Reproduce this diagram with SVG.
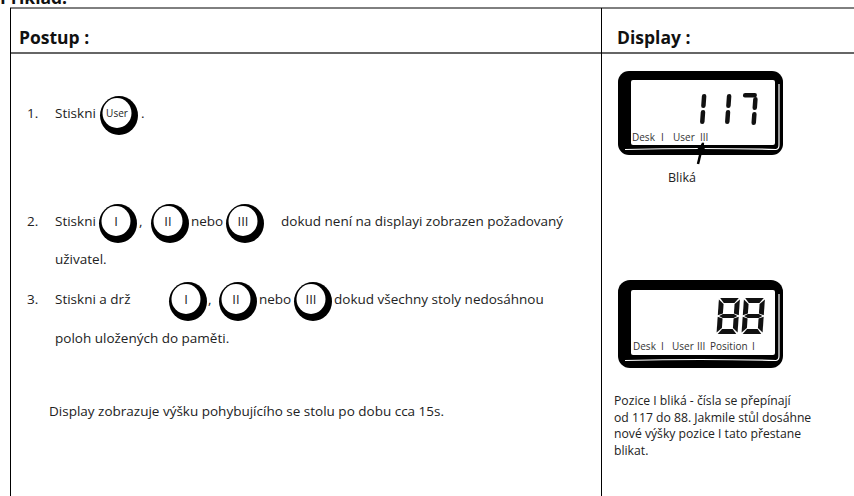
<svg xmlns="http://www.w3.org/2000/svg" xmlns:xlink="http://www.w3.org/1999/xlink" width="854" height="496" viewBox="0 0 854 496">
<style>
  .t { font-family: "Open Sans", "Noto Sans", "DejaVu Sans", sans-serif; font-size: 13.5px; fill: #222; }
  .r { font-family: "Open Sans", "Noto Sans", "DejaVu Sans", sans-serif; font-size: 12.2px; fill: #222; }
  .h { font-family: "Open Sans", "Noto Sans", "DejaVu Sans", sans-serif; font-size: 17.5px; font-weight: bold; fill: #111; }
  .lbl { font-family: "Open Sans", "Noto Sans", "DejaVu Sans", sans-serif; font-size: 13px; fill: #222; text-anchor: middle; }
  .lcd { font-family: "Open Sans", "Noto Sans", "DejaVu Sans", sans-serif; font-size: 10px; fill: #333; }
  .rule { stroke: #000; stroke-width: 1; fill: none; }
  .seg { fill: #111; }
</style>
<defs>
  <g id="btn">
    <ellipse cx="2" cy="2.5" rx="19" ry="19.5" fill="#000"/>
    <ellipse cx="0" cy="0" rx="14.5" ry="15" fill="#fff"/>
  </g>
  <g id="d8">
    <polygon class="seg" points="1.2,0 19.8,0 15.8,5 5.2,5"/>
    <polygon class="seg" points="1.2,36 19.8,36 15.8,31 5.2,31"/>
    <polygon class="seg" points="0,1.5 5,6 5,15.6 0,17.2"/>
    <polygon class="seg" points="0,18.8 5,20.4 5,30 0,34.5"/>
    <polygon class="seg" points="21,1.5 16,6 16,15.6 21,17.2"/>
    <polygon class="seg" points="21,18.8 16,20.4 16,30 21,34.5"/>
    <polygon class="seg" points="1.4,18 5,16.1 16,16.1 19.6,18 16,19.9 5,19.9"/>
  </g>
  <g id="s1">
    <rect x="0" y="0" width="4.5" height="14" rx="2.2"/>
    <rect x="0" y="16" width="4.5" height="14" rx="2.2"/>
  </g>
  <marker id="ah" viewBox="0 0 10 10" refX="9" refY="5" markerUnits="userSpaceOnUse" markerWidth="9" markerHeight="9" orient="auto">
    <path d="M0,0 L10,5 L0,10 z" fill="#000"/>
  </marker>
</defs>

<rect x="0" y="0" width="854" height="496" fill="#fff"/>

<text x="0" y="3.5" class="h">Příklad:</text>

<g id="table">
  <line class="rule" x1="10" y1="8" x2="854" y2="8"/>
  <line x1="10" y1="53" x2="854" y2="53" stroke="#666" stroke-width="1.8"/>
  <line class="rule" x1="10.5" y1="8" x2="10.5" y2="496"/>
  <line class="rule" x1="601.5" y1="8" x2="601.5" y2="496"/>
  <text x="19" y="44" class="h">Postup :</text>
  <text x="617" y="44" class="h">Display :</text>
</g>

<g id="step1">
  <text x="27" y="118" class="t">1.</text>
  <text x="55" y="118" class="t">Stiskni</text>
  <use xlink:href="#btn" x="117" y="113"/>
  <text x="117" y="117" class="lbl" style="font-size:10px">User</text>
  <text x="141" y="118" class="t">.</text>
</g>

<g id="step2">
  <text x="27" y="226" class="t">2.</text>
  <text x="55" y="226" class="t">Stiskni</text>
  <text x="139" y="226" class="t">,</text>
  <text x="191" y="226" class="t">nebo</text>
  <use xlink:href="#btn" x="116" y="221"/>
  <text x="116" y="226" class="lbl">I</text>
  <use xlink:href="#btn" x="168" y="221"/>
  <text x="168" y="226" class="lbl">II</text>
  <use xlink:href="#btn" x="243" y="221"/>
  <text x="243" y="226" class="lbl">III</text>
  <text x="281" y="226" class="t">dokud není na displayi zobrazen požadovaný</text>
  <text x="55" y="264" class="t">uživatel.</text>
</g>

<g id="step3">
  <text x="27" y="304" class="t">3.</text>
  <text x="55" y="304" class="t">Stiskni a drž</text>
  <text x="208" y="304" class="t">,</text>
  <text x="259" y="304" class="t">nebo</text>
  <use xlink:href="#btn" x="186" y="299"/>
  <text x="186" y="304" class="lbl">I</text>
  <use xlink:href="#btn" x="236" y="299"/>
  <text x="236" y="304" class="lbl">II</text>
  <use xlink:href="#btn" x="311" y="299"/>
  <text x="311" y="304" class="lbl">III</text>
  <text x="334" y="304" class="t">dokud všechny stoly nedosáhnou</text>
  <text x="55" y="343" class="t">poloh uložených do paměti.</text>
</g>

<g id="note-left">
  <text x="49" y="416" class="t">Display zobrazuje výšku pohybujícího se stolu po dobu cca 15s.</text>
</g>

<g id="display1">
  <rect x="618" y="71" width="165" height="84" rx="11" fill="#000"/>
  <rect x="631" y="80" width="144" height="65" rx="2" fill="#fff"/>
  <path d="M625,149.5 Q700,147.5 776,149.5 Q779,149 779,145 L779,84" fill="none" stroke="#fff" stroke-width="1.2"/>
  <g transform="translate(700,94) skewX(-4)" fill="#111">
    <use xlink:href="#s1" x="2" y="0"/>
    <use xlink:href="#s1" x="27" y="0"/>
    <rect x="43" y="-1" width="14" height="4.5" rx="2.2"/>
    <rect x="53.5" y="3" width="4.5" height="13" rx="2.2"/>
    <rect x="53.5" y="18" width="4.5" height="13" rx="2.2"/>
  </g>
  <text y="141" class="lcd"><tspan x="632">Desk</tspan><tspan x="661">I</tspan><tspan x="673">User</tspan><tspan x="700">III</tspan></text>
</g>

<g id="blika">
  <text x="668" y="182" class="r" style="font-size:12.5px">Bliká</text>
</g>

<g id="connectors">
  <line x1="698" y1="164" x2="703" y2="143" stroke="#000" stroke-width="2.5" marker-end="url(#ah)"/>
</g>

<g id="display2">
  <rect x="618" y="280" width="165" height="88" rx="12" fill="#000"/>
  <rect x="631" y="290" width="144" height="65" rx="2" fill="#fff"/>
  <path d="M625,360.5 Q700,358.5 776,360.5 Q779,360 779,356 L779,294" fill="none" stroke="#fff" stroke-width="1.2"/>
  <g transform="translate(719,298) skewX(-4)">
    <use xlink:href="#d8" x="0" y="0"/>
    <use xlink:href="#d8" x="25" y="0"/>
  </g>
  <text y="350" class="lcd"><tspan x="633">Desk</tspan><tspan x="661">I</tspan><tspan x="672">User</tspan><tspan x="697">III</tspan><tspan x="710">Position</tspan><tspan x="752">I</tspan></text>
</g>

<g id="note-right">
  <text x="614" y="405" class="r">Pozice I bliká - čísla se přepínají</text>
  <text x="614" y="421.5" class="r">od 117 do 88. Jakmile stůl dosáhne</text>
  <text x="614" y="438" class="r">nové výšky pozice I tato přestane</text>
  <text x="614" y="454.5" class="r">blikat.</text>
</g>
</svg>
